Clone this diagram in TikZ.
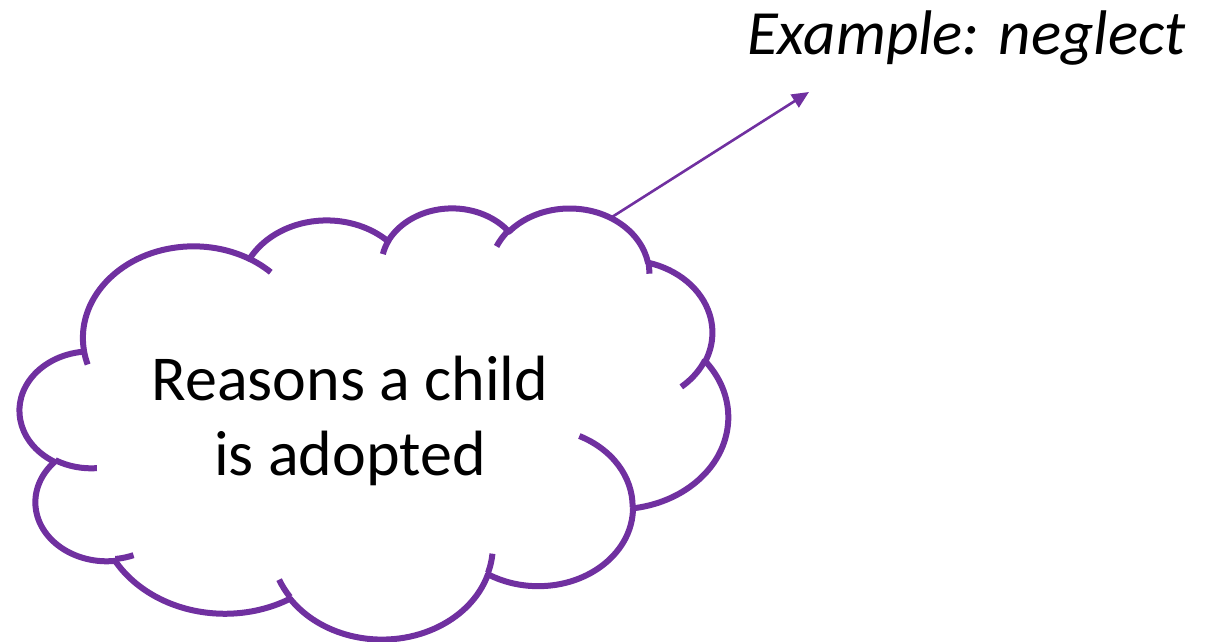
\documentclass[tikz,border=0pt]{standalone}
\usepackage{fontspec}
\setmainfont{Carlito}
\usetikzlibrary{arrows.meta}
\definecolor{cpurple}{HTML}{7030A0}
\newcommand\oxcalc[5]{%
  \pgfmathsetmacro\oxtA{atan2((#2)*sin(#4),(#3)*cos(#4))}%
  \pgfmathsetmacro\oxtB{atan2((#2)*sin((#4)+(#5)),(#3)*cos((#4)+(#5)))}%
  \pgfmathsetmacro\oxtD{\oxtB-\oxtA}%
  \pgfmathsetmacro\oxtD{\oxtD<0?\oxtD+360:\oxtD}%
  \expandafter\xdef\csname oxs#1\endcsname{\oxtA}%
  \expandafter\xdef\csname oxd#1\endcsname{\oxtD}%
}
\tikzset{
  cloudline/.style={draw=cpurple, line width=6pt},
  stubline/.style={draw=cpurple, line width=6pt},
  pointer/.style={draw=cpurple, line width=2.6pt, -{Triangle[length=17pt,width=15pt]}},
  bigtext/.style={font=\fontsize{64}{75}\selectfont, align=center, inner sep=0pt},
}
\begin{document}
\begin{tikzpicture}[x=1pt,y=-1pt]
\useasboundingbox (0,0) rectangle (1205,642);
% main outline arcs (wR, hR, start, sweep)
\oxcalc{A}{67.53}{91.90}{-190.48748}{123.78053}
\oxcalc{B}{53.33}{72.67}{-144.10238}{89.94523}
\oxcalc{C}{43.65}{59.45}{-145.80792}{99.72302}
\oxcalc{D}{48.57}{65.95}{-130.98607}{117.24173}
\oxcalc{E}{53.33}{72.73}{-78.70888}{109.02692}
\oxcalc{F}{67.75}{92.20}{-46.26725}{130.269}
\oxcalc{G}{57.85}{78.67}{0.62502}{114.03333}
\oxcalc{H}{67.52}{92.15}{22.4516}{115.17255}
\oxcalc{I}{77.20}{105.43}{66.24263}{75.71102}
\oxcalc{J}{43.60}{59.18}{-274.94208}{146.73557}
\oxcalc{K}{43.45}{59.45}{-246.8285}{152.51885}
% inner stubs
\oxcalc{a}{43.45}{59.45}{86.742}{26.4295}
\oxcalc{b}{43.60}{59.18}{73.61047}{11.44747}
\oxcalc{c}{67.52}{92.15}{137.62415}{14.0811}
\oxcalc{d}{67.52}{92.15}{6.45327}{15.99835}
\oxcalc{e}{57.85}{78.67}{-70.29235}{70.91737}
\oxcalc{f}{53.33}{72.73}{30.31803}{27.7515}
\oxcalc{g}{48.57}{65.95}{-13.74433}{14.8589}
\oxcalc{h}{48.57}{65.95}{-149.18145}{18.19537}
\oxcalc{i}{43.65}{59.45}{-163.49427}{17.68635}
\oxcalc{j}{67.53}{91.90}{-66.70695}{12.31935}
\oxcalc{k}{67.53}{91.90}{157.65435}{11.85817}
\begin{scope}[shift={(20,207)}, xscale=708/432, yscale=431/432]
\path[cloudline, fill=white, line join=round] (39.00,143.70)
  arc[start angle=\oxsA, delta angle=\oxdA, x radius=67.53, y radius=91.90]
  arc[start angle=\oxsB, delta angle=\oxdB, x radius=53.33, y radius=72.67]
  arc[start angle=\oxsC, delta angle=\oxdC, x radius=43.65, y radius=59.45]
  arc[start angle=\oxsD, delta angle=\oxdD, x radius=48.57, y radius=65.95]
  arc[start angle=\oxsE, delta angle=\oxdE, x radius=53.33, y radius=72.73]
  arc[start angle=\oxsF, delta angle=\oxdF, x radius=67.75, y radius=92.20]
  arc[start angle=\oxsG, delta angle=\oxdG, x radius=57.85, y radius=78.67]
  arc[start angle=\oxsH, delta angle=\oxdH, x radius=67.52, y radius=92.15]
  arc[start angle=\oxsI, delta angle=\oxdI, x radius=77.20, y radius=105.43]
  arc[start angle=\oxsJ, delta angle=\oxdJ, x radius=43.60, y radius=59.18]
  arc[start angle=\oxsK, delta angle=\oxdK, x radius=43.45, y radius=59.45]
  -- cycle;
\path[stubline] (46.93,261.77) arc[start angle=\oxsa, delta angle=\oxda, x radius=43.45, y radius=59.45];
\path[stubline] (69.28,348.99) arc[start angle=\oxsb, delta angle=\oxdb, x radius=43.60, y radius=59.18];
\path[stubline] (164.78,390.90) arc[start angle=\oxsc, delta angle=\oxdc, x radius=67.52, y radius=92.15];
\path[stubline] (288.27,347.51) arc[start angle=\oxsd, delta angle=\oxdd, x radius=67.52, y radius=92.15];
\path[stubline] (341.29,229.54) arc[start angle=\oxse, delta angle=\oxde, x radius=57.85, y radius=78.67];
\path[stubline] (417.98,153.54) arc[start angle=\oxsf, delta angle=\oxdf, x radius=53.33, y radius=72.73];
\path[stubline] (383.24,54.26) arc[start angle=\oxsg, delta angle=\oxdg, x radius=48.57, y radius=65.95];
\path[stubline] (290.78,39.52) arc[start angle=\oxsh, delta angle=\oxdh, x radius=48.57, y radius=65.95];
\path[stubline] (221.41,47.20) arc[start angle=\oxsi, delta angle=\oxdi, x radius=43.65, y radius=59.45];
\path[stubline] (140.00,51.92) arc[start angle=\oxsj, delta angle=\oxdj, x radius=67.53, y radius=91.90];
\path[stubline] (41.27,157.89) arc[start angle=\oxsk, delta angle=\oxdk, x radius=67.53, y radius=91.90];
\end{scope}
\node[bigtext, anchor=center] (reasons) at (350,421) {Reasons a child\\is adopted};
\node[bigtext, anchor=base west, font=\fontsize{63}{75}\selectfont\itshape] (example) at (747,55) {Example: neglect};
\coordinate (cloudtop) at (612,217);
\coordinate (tip) at (809,92);
\draw[pointer] (cloudtop) -- (tip);
\end{tikzpicture}
\end{document}
